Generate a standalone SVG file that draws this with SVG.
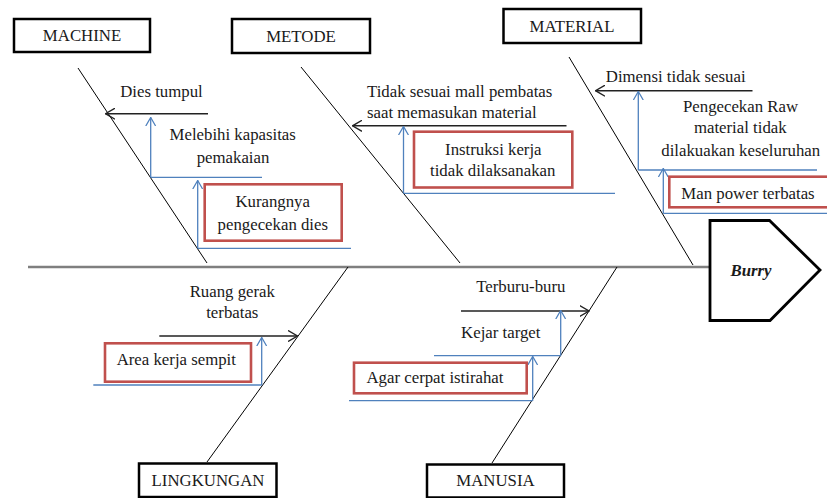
<svg xmlns="http://www.w3.org/2000/svg" width="827" height="498" viewBox="0 0 827 498">
<defs>
<marker id="ab" viewBox="0 0 10 12" refX="9.5" refY="6" markerWidth="10" markerHeight="12" markerUnits="userSpaceOnUse" orient="auto">
<path d="M0,0.5 L9.5,6 L0,11.5" fill="none" stroke="#222" stroke-width="1.4"/>
</marker>
<marker id="au" viewBox="0 0 10 12" refX="9.5" refY="6" markerWidth="9" markerHeight="11" markerUnits="userSpaceOnUse" orient="auto">
<path d="M0,0.5 L9.5,6 L0,11.5" fill="none" stroke="#4F81BD" stroke-width="1.4"/>
</marker>
</defs>
<style>
text{font-family:"Liberation Serif","Times New Roman",serif;font-size:16.8px;fill:#1a1a1a;text-anchor:middle}
.cat{fill:#fff;stroke:#000;stroke-width:2.5}
.red{fill:#fff;stroke:#C0504D;stroke-width:2.6}
.bone{stroke:#000;stroke-width:1;fill:none}
.blk{stroke:#222;stroke-width:1.5;fill:none;marker-end:url(#ab)}
.blu{stroke:#4F81BD;stroke-width:1.3;fill:none}
.bluA{stroke:#4F81BD;stroke-width:1.3;fill:none;marker-end:url(#au)}
</style>
<rect width="827" height="498" fill="#fff"/>
<g id="connectors">
<line x1="28" y1="267" x2="710" y2="267" stroke="#7f7f7f" stroke-width="2.5"/>
<line class="bone" x1="78" y1="68" x2="207" y2="263"/>
<line class="bone" x1="301" y1="67" x2="460" y2="263"/>
<line class="bone" x1="569" y1="57" x2="693" y2="265"/>
<line class="bone" x1="348" y1="267" x2="207" y2="462"/>
<line class="bone" x1="617" y1="267" x2="492" y2="463"/>
<line class="blk" x1="208" y1="113.7" x2="105.5" y2="113.7"/>
<line class="blu" x1="150.5" y1="177.3" x2="262" y2="177.3"/>
<line class="bluA" x1="150.7" y1="177.3" x2="150.7" y2="117.5"/>
<line class="blu" x1="197.7" y1="248.3" x2="351" y2="248.3"/>
<line class="bluA" x1="197.7" y1="248.3" x2="197.7" y2="180.5"/>
<line class="blk" x1="566.5" y1="125.8" x2="352.5" y2="125.8"/>
<line class="blu" x1="403.5" y1="193.3" x2="615" y2="193.3"/>
<line class="bluA" x1="403.5" y1="193.3" x2="403.5" y2="126.5"/>
<line class="blk" x1="752.5" y1="90.7" x2="595.5" y2="90.7"/>
<line class="blu" x1="638.3" y1="170" x2="817" y2="170"/>
<line class="bluA" x1="638.3" y1="170" x2="638.3" y2="91.5"/>
<line class="blu" x1="663.3" y1="213.3" x2="827" y2="213.3"/>
<line class="bluA" x1="663.3" y1="213.3" x2="663.3" y2="168.5"/>
<line class="blk" x1="159.3" y1="336" x2="297.5" y2="336"/>
<line class="blu" x1="93.3" y1="385" x2="261.7" y2="385"/>
<line class="bluA" x1="261.7" y1="385" x2="261.7" y2="337.5"/>
<line class="blk" x1="461" y1="311" x2="589" y2="311"/>
<line class="blu" x1="434" y1="355.7" x2="560.7" y2="355.7"/>
<line class="bluA" x1="560.7" y1="355.7" x2="560.7" y2="310.5"/>
<line class="blu" x1="349" y1="400.7" x2="532.7" y2="400.7"/>
<line class="bluA" x1="532.7" y1="400.7" x2="532.7" y2="356.5"/>
</g>
<g id="machine">
<rect class="cat" x="14" y="19" width="136" height="33"/>
<text x="82" y="41">MACHINE</text>
</g>
<g id="metode">
<rect class="cat" x="232" y="19" width="138" height="34"/>
<text x="301" y="41.7">METODE</text>
</g>
<g id="material">
<rect class="cat" x="503.5" y="9" width="137.5" height="34"/>
<text x="572" y="31.7">MATERIAL</text>
</g>
<g id="lingkungan">
<rect class="cat" x="139" y="463.5" width="137.5" height="33.5"/>
<text x="208" y="485.5">LINGKUNGAN</text>
</g>
<g id="manusia">
<rect class="cat" x="427" y="464.5" width="137" height="33"/>
<text x="495.5" y="486">MANUSIA</text>
</g>
<g id="burry">
<path d="M710,220.5 L769.5,220.5 L820,270 L770,320.5 L710,320.5 Z" fill="#fff" stroke="#000" stroke-width="2.8" stroke-linejoin="miter"/>
<text x="751" y="276" font-weight="bold" font-style="italic">Burry</text>
</g>
<g id="dies-tumpul">
<text x="161.5" y="97">Dies tumpul</text>
</g>
<g id="melebihi-kapasitas">
<text x="232.7" y="140">Melebihi kapasitas</text>
<text x="233" y="162.7">pemakaian</text>
</g>
<g id="kurangnya-pengecekan">
<rect class="red" x="204.7" y="184.3" width="137" height="56.4"/>
<text x="272.7" y="206.7">Kurangnya</text>
<text x="272.8" y="230">pengecekan dies</text>
</g>
<g id="tidak-sesuai-mall">
<text x="367" y="96.7" style="text-anchor:start">Tidak sesuai mall pembatas</text>
<text x="367" y="118.3" style="text-anchor:start">saat memasukan material</text>
</g>
<g id="instruksi-kerja">
<rect class="red" x="414" y="131.7" width="158.3" height="55.8"/>
<text x="493.3" y="155">Instruksi kerja</text>
<text x="492.7" y="176">tidak dilaksanakan</text>
</g>
<g id="dimensi">
<text x="675.7" y="81.7">Dimensi tidak sesuai</text>
</g>
<g id="pengecekan-raw">
<text x="740.5" y="111.7">Pengecekan Raw</text>
<text x="740.3" y="133.3">material tidak</text>
<text x="740.7" y="156">dilakuakan keseluruhan</text>
</g>
<g id="man-power">
<rect class="red" x="669.3" y="176.7" width="162" height="30.6"/>
<text x="748" y="199.3">Man power terbatas</text>
</g>
<g id="ruang-gerak">
<text x="232.3" y="296.7">Ruang gerak</text>
<text x="232.3" y="318.3">terbatas</text>
</g>
<g id="area-kerja">
<rect class="red" x="105" y="343.3" width="146" height="38.4"/>
<text x="176.3" y="365">Area kerja sempit</text>
</g>
<g id="terburu-buru">
<text x="520.8" y="291.7">Terburu-buru</text>
</g>
<g id="kejar-target">
<text x="500.8" y="338.3">Kejar target</text>
</g>
<g id="agar-cerpat">
<rect class="red" x="354" y="362.7" width="172.7" height="30.6"/>
<text x="435" y="383.3">Agar cerpat istirahat</text>
</g>
</svg>
